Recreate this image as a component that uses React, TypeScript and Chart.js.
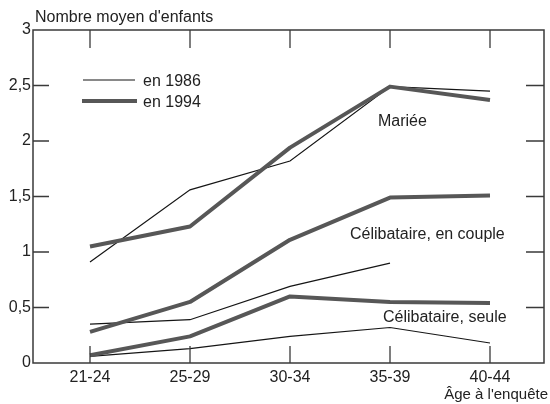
import React, { useEffect, useRef } from "react";
import { Chart, registerables } from "chart.js";

Chart.register(...registerables);

const categories = ["21-24", "25-29", "30-34", "35-39", "40-44"];
const yTicks = [0, 0.5, 1, 1.5, 2, 2.5, 3];

const mariee1986 = [0.91, 1.56, 1.82, 2.49, 2.45];
const mariee1994 = [1.05, 1.23, 1.94, 2.49, 2.37];
const couple1986 = [0.35, 0.39, 0.69, 0.9, null];
const couple1994 = [0.28, 0.55, 1.11, 1.49, 1.51];
const seule1986 = [0.06, 0.13, 0.24, 0.32, 0.18];
const seule1994 = [0.07, 0.24, 0.6, 0.55, 0.54];

const legendLabels = ["en 1986", "en 1994"];
const groupLabels = ["Mariée", "Célibataire, en couple", "Célibataire, seule"];
const yTitle = "Nombre moyen d'enfants";
const xTitle = "Âge à l'enquête";

const FONT = "'Liberation Sans', Arial, Helvetica, sans-serif";
const TEXT = "#222";
const THIN = "#151515";
const THICK = "#575757";
const AXIS = "#3a3a3a";

const toPts = (arr: (number | null)[]) =>
  arr.map((v, i) => ({ x: i, y: v }));

const decorPlugin = {
  id: "decor",
  afterDatasetsDraw(chart: any) {
    const { ctx, chartArea: a, scales } = chart;
    const xs = scales.x;
    const ys = scales.y;
    ctx.save();
    // frame
    ctx.strokeStyle = AXIS;
    ctx.lineWidth = 1.5;
    ctx.strokeRect(a.left, a.top, a.right - a.left, a.bottom - a.top);
    // inner ticks
    ctx.lineWidth = 1.3;
    ctx.beginPath();
    yTicks.forEach((v) => {
      if (v <= 0 || v >= 3) return;
      const y = ys.getPixelForValue(v);
      ctx.moveTo(a.left, y);
      ctx.lineTo(a.left + 16, y);
      ctx.moveTo(a.right, y);
      ctx.lineTo(a.right - 18, y);
    });
    categories.forEach((_, i) => {
      const x = xs.getPixelForValue(i);
      ctx.moveTo(x, a.top);
      ctx.lineTo(x, a.top + 18);
      ctx.moveTo(x, a.bottom);
      ctx.lineTo(x, a.bottom - 17);
    });
    ctx.stroke();

    // texts
    ctx.fillStyle = TEXT;
    ctx.textBaseline = "middle";
    ctx.font = `16px ${FONT}`;
    ctx.textAlign = "left";
    ctx.fillText(yTitle, 35, 18);
    ctx.font = `15px ${FONT}`;
    ctx.textAlign = "right";
    ctx.fillText(xTitle, 548, 395);

    // legend
    ctx.textAlign = "left";
    ctx.font = `16px ${FONT}`;
    ctx.strokeStyle = THIN;
    ctx.lineWidth = 1.2;
    ctx.beginPath();
    ctx.moveTo(83, 80);
    ctx.lineTo(135, 80);
    ctx.stroke();
    ctx.strokeStyle = THICK;
    ctx.lineWidth = 4;
    ctx.beginPath();
    ctx.moveTo(82, 101);
    ctx.lineTo(137, 101);
    ctx.stroke();
    ctx.fillText(legendLabels[0], 143, 82);
    ctx.fillText(legendLabels[1], 143, 103);

    // group labels
    ctx.fillText(groupLabels[0], 378, 122);
    ctx.fillText(groupLabels[1], 350, 235);
    ctx.fillText(groupLabels[2], 383, 318);
    ctx.restore();
  },
};

export default function App() {
  const ref = useRef<HTMLCanvasElement>(null);
  useEffect(() => {
    if (!ref.current) return;
    const thick = (d: (number | null)[]) => ({
      data: toPts(d),
      borderColor: THICK,
      borderWidth: 4,
      pointRadius: 0,
      borderJoinStyle: "round" as const,
      tension: 0,
      spanGaps: false,
    });
    const thin = (d: (number | null)[]) => ({
      data: toPts(d),
      borderColor: THIN,
      borderWidth: 1.2,
      pointRadius: 0,
      tension: 0,
      spanGaps: false,
    });
    const chart = new Chart(ref.current, {
      type: "line",
      data: {
        datasets: [
          thick(mariee1994),
          thick(couple1994),
          thick(seule1994),
          thin(mariee1986),
          thin(couple1986),
          thin(seule1986),
        ] as any,
      },
      plugins: [decorPlugin],
      options: {
        animation: false,
        responsive: false,
        devicePixelRatio: 1,
        layout: { padding: { top: 30, right: 6, left: 0, bottom: 0 } },
        plugins: { legend: { display: false }, tooltip: { enabled: false } },
        scales: {
          x: {
            type: "linear",
            min: -0.57,
            max: 4.54,
            grid: { display: false, drawTicks: false },
            border: { display: false },
            afterBuildTicks: (s: any) => {
              s.ticks = categories.map((_, i) => ({ value: i }));
            },
            afterFit: (s: any) => {
              s.height = 41;
            },
            ticks: {
              padding: 5,
              autoSkip: false,
              maxRotation: 0,
              color: TEXT,
              font: { family: FONT, size: 16 },
              callback: (v: any) => categories[Math.round(Number(v))] ?? "",
            },
          },
          y: {
            min: 0,
            max: 3,
            grid: { display: false, drawTicks: false },
            border: { display: false },
            afterBuildTicks: (s: any) => {
              s.ticks = yTicks.map((v) => ({ value: v }));
            },
            afterFit: (s: any) => {
              s.width = 33;
            },
            ticks: {
              padding: 2,
              color: TEXT,
              font: { family: FONT, size: 16 },
              callback: (v: any) => String(v).replace(".", ","),
            },
          },
        },
      },
    });
    return () => chart.destroy();
  }, []);
  return (
    <div style={{ position: "fixed", left: 0, top: 0, width: 550, height: 404, background: "#fff" }}>
      <canvas ref={ref} width={550} height={404} style={{ width: 550, height: 404 }} />
    </div>
  );
}
